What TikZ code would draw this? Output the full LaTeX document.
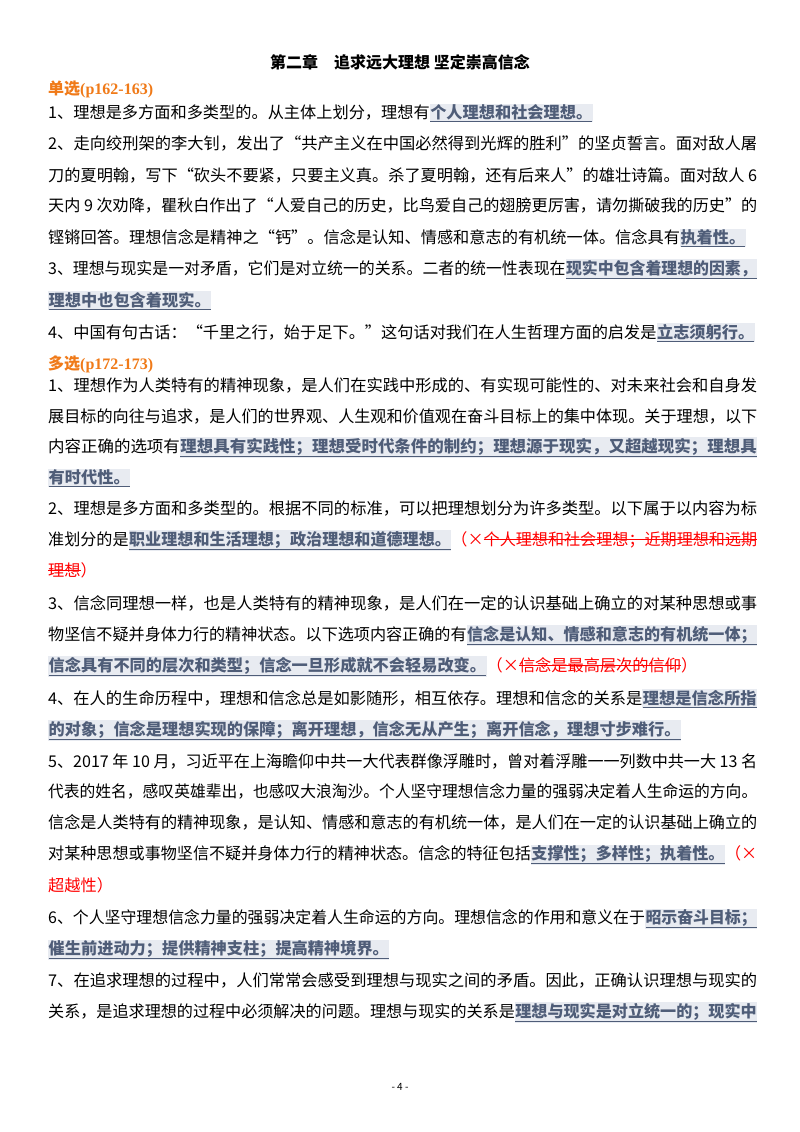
\documentclass[tikz,border=0pt]{standalone}
\usepackage{fontspec}
\usepackage{graphicx}
\setmainfont{Noto Sans CJK SC}
\newfontfamily\latserif{Liberation Serif}
\definecolor{hlbg}{HTML}{E8EBF1}
\definecolor{hlfg}{HTML}{4F5D78}
\definecolor{orng}{HTML}{F07A18}
\newcommand\hlt[1]{{\setlength{\fboxsep}{0.5pt}\colorbox{hlbg}{\color{hlfg}\bfseries\underline{#1}}}}
\newcommand\strk[1]{\sbox0{#1}\rlap{\rule[0.3em]{\wd0}{0.7pt}}\usebox0}
\newcommand\rd[1]{\textcolor{red}{#1}}
\newcommand\jl[2]{\node[txt] at (48,#1) {\resizebox{709pt}{\height}{#2}};}
\newcommand\pl[2]{\node[txt] at (48,#1) {#2};}
\begin{document}
\begin{tikzpicture}[x=1pt,y=-1pt,
  txt/.style={anchor=base west,inner sep=0pt,font=\fontsize{16.2}{18}\selectfont},
  head/.style={anchor=base west,inner sep=0pt,font=\fontsize{16}{18}\selectfont\bfseries,text=orng}]
\useasboundingbox[fill=white] (0,0) rectangle (800,1132);
\node[anchor=base,inner sep=0pt,font=\fontsize{16}{18}\selectfont\bfseries] (title) at (400,69) {第二章\quad 追求远大理想\ 坚定崇高信念};
\node[head] (h1) at (48,95) {单选{\latserif(p162-163)}};
\pl{118}{1、理想是多方面和多类型的。从主体上划分，理想有\hlt{个人理想和社会理想。}}
\jl{149}{2、走向绞刑架的李大钊，发出了“共产主义在中国必然得到光辉的胜利”的坚贞誓言。面对敌人屠}
\jl{181}{刀的夏明翰，写下“砍头不要紧，只要主义真。杀了夏明翰，还有后来人”的雄壮诗篇。面对敌人 6}
\jl{211}{天内 9 次劝降，瞿秋白作出了“人爱自己的历史，比鸟爱自己的翅膀更厉害，请勿撕破我的历史”的}
\pl{243}{铿锵回答。理想信念是精神之“钙”。信念是认知、情感和意志的有机统一体。信念具有\hlt{执着性。}}
\jl{274}{3、理想与现实是一对矛盾，它们是对立统一的关系。二者的统一性表现在\hlt{现实中包含着理想的因素，}}
\pl{306}{\hlt{理想中也包含着现实。}}
\pl{338}{4、中国有句古话：“千里之行，始于足下。”这句话对我们在人生哲理方面的启发是\hlt{立志须躬行。}}
\node[head] (h2) at (48,369) {多选{\latserif(p172-173)}};
\jl{391}{1、理想作为人类特有的精神现象，是人们在实践中形成的、有实现可能性的、对未来社会和自身发}
\jl{422}{展目标的向往与追求，是人们的世界观、人生观和价值观在奋斗目标上的集中体现。关于理想，以下}
\jl{452}{内容正确的选项有\hlt{理想具有实践性；理想受时代条件的制约；理想源于现实，又超越现实；理想具}}
\pl{483}{\hlt{有时代性。}}
\jl{514}{2、理想是多方面和多类型的。根据不同的标准，可以把理想划分为许多类型。以下属于以内容为标}
\jl{545}{准划分的是\hlt{职业理想和生活理想；政治理想和道德理想。}\rd{（×\strk{个人理想和社会理想；近期理想和远期}}}
\pl{576}{\rd{\strk{理想}）}}
\jl{609}{3、信念同理想一样，也是人类特有的精神现象，是人们在一定的认识基础上确立的对某种思想或事}
\jl{640}{物坚信不疑并身体力行的精神状态。以下选项内容正确的有\hlt{信念是认知、情感和意志的有机统一体；}}
\pl{671}{\hlt{信念具有不同的层次和类型；信念一旦形成就不会轻易改变。}\rd{（×\strk{信念是最高层次的信仰}）}}
\jl{704}{4、在人的生命历程中，理想和信念总是如影随形，相互依存。理想和信念的关系是\hlt{理想是信念所指}}
\pl{735}{\hlt{的对象；信念是理想实现的保障；离开理想，信念无从产生；离开信念，理想寸步难行。}}
\jl{767}{5、2017 年 10 月，习近平在上海瞻仰中共一大代表群像浮雕时，曾对着浮雕一一列数中共一大 13 名}
\jl{797}{代表的姓名，感叹英雄辈出，也感叹大浪淘沙。个人坚守理想信念力量的强弱决定着人生命运的方向。}
\jl{828}{信念是人类特有的精神现象，是认知、情感和意志的有机统一体，是人们在一定的认识基础上确立的}
\jl{859}{对某种思想或事物坚信不疑并身体力行的精神状态。信念的特征包括\hlt{支撑性；多样性；执着性。}\rd{（×}}
\pl{891}{\rd{超越性）}}
\jl{923}{6、个人坚守理想信念力量的强弱决定着人生命运的方向。理想信念的作用和意义在于\hlt{昭示奋斗目标；}}
\pl{954}{\hlt{催生前进动力；提供精神支柱；提高精神境界。}}
\jl{986}{7、在追求理想的过程中，人们常常会感受到理想与现实之间的矛盾。因此，正确认识理想与现实的}
\jl{1017}{关系，是追求理想的过程中必须解决的问题。理想与现实的关系是\hlt{理想与现实是对立统一的；现实中}}
\node[anchor=base,inner sep=0pt,font=\fontsize{10}{12}\selectfont] (pg) at (400,1090) {- 4 -};
\end{tikzpicture}
\end{document}
